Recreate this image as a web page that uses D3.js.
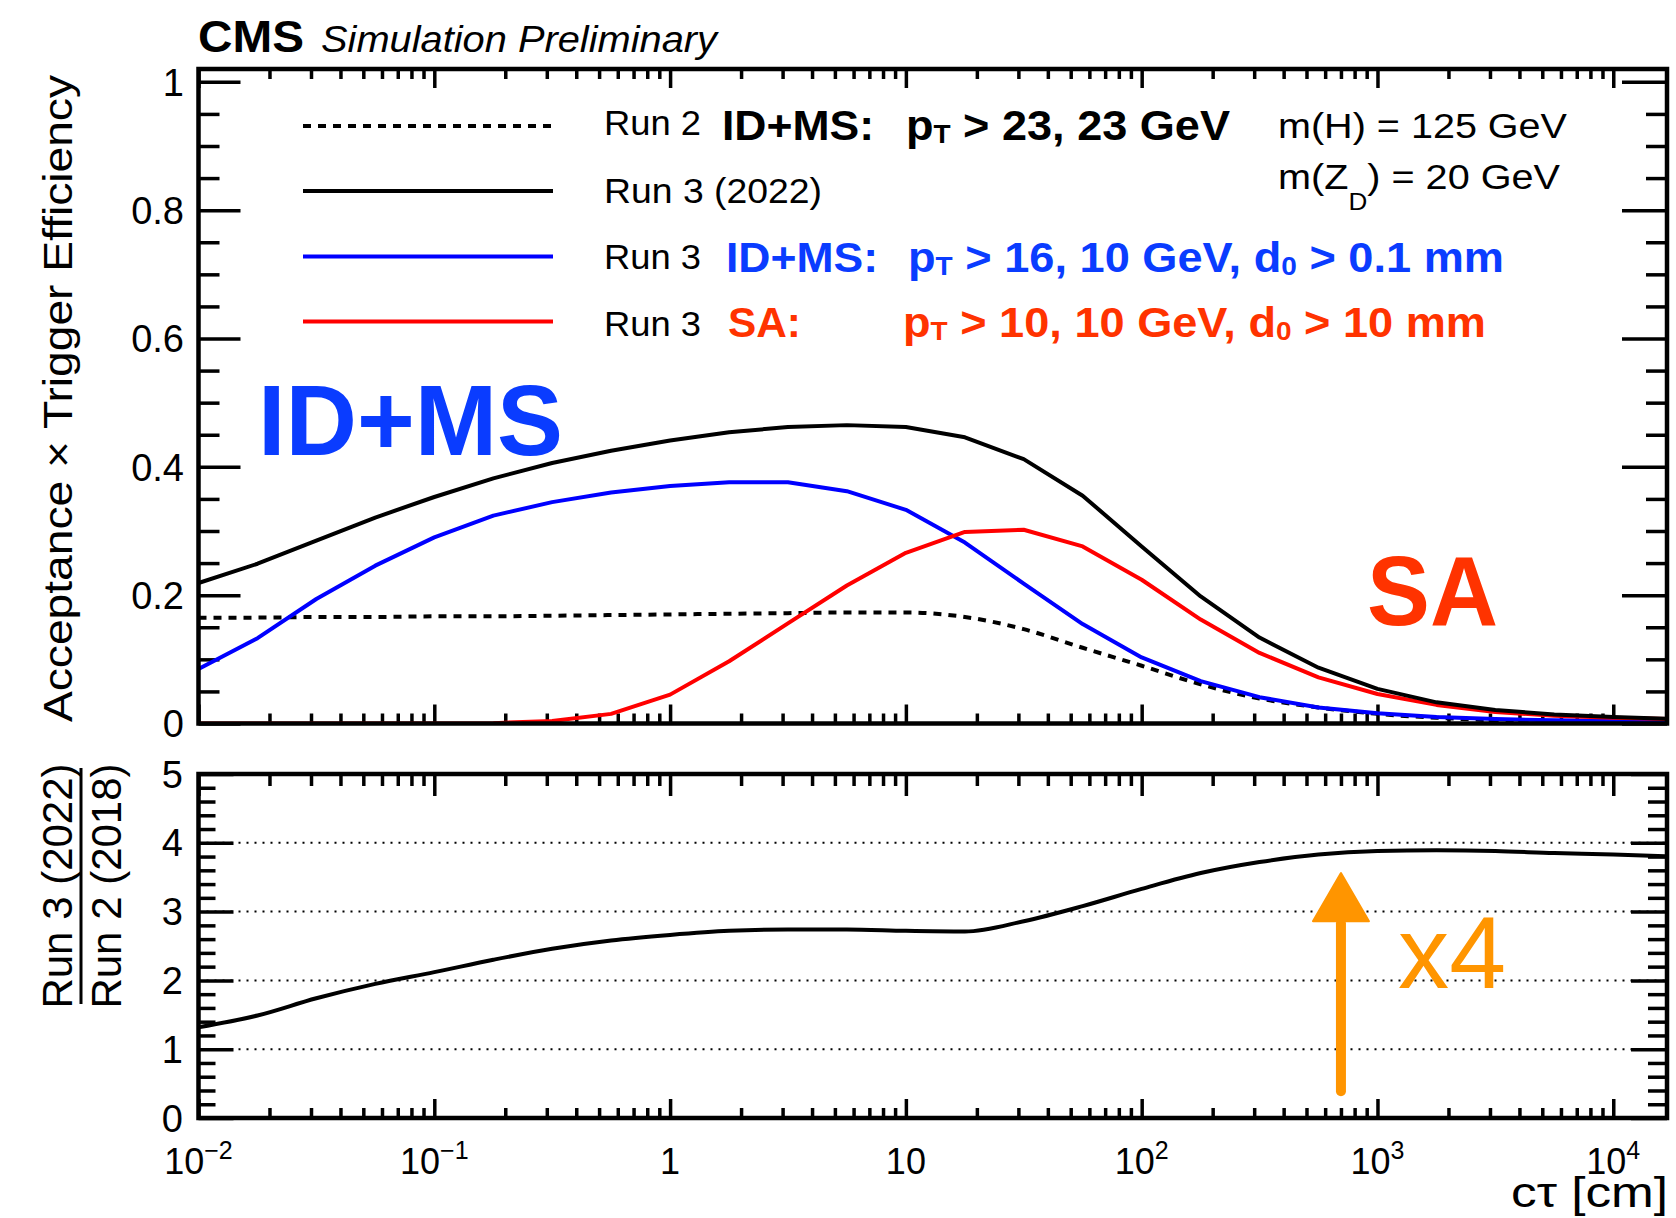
<!DOCTYPE html>
<html>
<head>
<meta charset="utf-8">
<script src="https://cdn.jsdelivr.net/npm/d3@7"></script>
<style>
  html, body { margin: 0; padding: 0; background: #fff; }
  svg text { font-family: "Liberation Sans", Arial, Helvetica, sans-serif; }
</style>
</head>
<body>
<svg id="chart" width="1676" height="1218"></svg>
<script>
// Proper decay length c*tau [cm] at which the efficiencies were evaluated
const ctValues = [0.01, 0.0178, 0.0316, 0.0562, 0.1, 0.178, 0.316, 0.562,
                  1, 1.78, 3.16, 5.62, 10, 17.8, 31.6, 56.2,
                  100, 178, 316, 562, 1000, 1780, 3160, 5620, 10000, 17800];

// Acceptance x trigger efficiency, m(H) = 125 GeV, m(ZD) = 20 GeV
const run2IdMs = [0.165, 0.165, 0.166, 0.166, 0.167, 0.167, 0.168, 0.169,
                  0.170, 0.171, 0.172, 0.173, 0.173, 0.166, 0.147, 0.118,
                  0.090, 0.061, 0.039, 0.025, 0.015, 0.009, 0.005, 0.0035, 0.0025, 0.002];
const run3Total = [0.219, 0.249, 0.285, 0.321, 0.353, 0.382, 0.406, 0.425,
                   0.441, 0.454, 0.462, 0.465, 0.462, 0.446, 0.412, 0.355,
                   0.276, 0.198, 0.134, 0.087, 0.054, 0.033, 0.021, 0.014, 0.010, 0.007];
const run3IdMs = [0.085, 0.133, 0.194, 0.246, 0.290, 0.324, 0.345, 0.360,
                  0.370, 0.376, 0.376, 0.362, 0.333, 0.282, 0.218, 0.155,
                  0.103, 0.066, 0.041, 0.025, 0.016, 0.010, 0.007, 0.005, 0.004, 0.003];
const run3Sa = [0.0, 0.0, 0.0, 0.0, 0.0, 0.0005, 0.004, 0.015,
                0.045, 0.097, 0.156, 0.215, 0.266, 0.2985, 0.302, 0.276,
                0.224, 0.162, 0.110, 0.072, 0.046, 0.029, 0.018, 0.012, 0.009, 0.007];

// Run 3 (2022) / Run 2 (2018)
const ratioRun3Run2 = [1.32, 1.49, 1.74, 1.95, 2.12, 2.30, 2.46, 2.58,
                       2.66, 2.72, 2.74, 2.74, 2.72, 2.71, 2.86, 3.08,
                       3.33, 3.56, 3.72, 3.83, 3.88, 3.89, 3.88, 3.85, 3.83, 3.80];

// Axis ticks and labels
const xMajorTicks = [0.01, 0.1, 1, 10, 100, 1000, 10000];
const xTickBase = ["10", "10", "1", "10", "10", "10", "10"];
const xTickExp = ["\u22122", "\u22121", "", "", "2", "3", "4"];
const effTicks = [0, 0.2, 0.4, 0.6, 0.8, 1];
const effTickLabels = ["0", "0.2", "0.4", "0.6", "0.8", "1"];
const ratioTicks = [0, 1, 2, 3, 4, 5];
const ratioTickLabels = ["0", "1", "2", "3", "4", "5"];
const ratioGridValues = [1, 2, 3, 4];

// ---------------------------------------------------------------
const svg = d3.select("#chart");
const BLUE_TXT = "#0a3cff", RED_TXT = "#ff3300", ORANGE = "#ff9500";

const L = 198.5, R = 1667;
const top1 = 69, bot1 = 723.5;   // efficiency pad
const top2 = 774, bot2 = 1118;   // ratio pad

const x = d3.scaleLog().domain([0.01, 16900]).range([L, R]);
const y1 = d3.scaleLinear().domain([0, 1.02]).range([bot1, top1]);
const y2 = d3.scaleLinear().domain([0, 5]).range([bot2, top2]);

const defs = svg.append("defs");
defs.append("clipPath").attr("id", "clipTop")
  .append("rect").attr("x", L).attr("y", top1).attr("width", R - L).attr("height", bot1 - top1);
defs.append("clipPath").attr("id", "clipBot")
  .append("rect").attr("x", L).attr("y", top2).attr("width", R - L).attr("height", bot2 - top2);

const allX = x.ticks();            // 1..9 multiples of every decade
const isMajor = v => Math.abs(Math.log10(v) - Math.round(Math.log10(v))) < 1e-9;
const xMinor = allX.filter(v => !isMajor(v));

// Inward ROOT-style ticks on all four sides of a pad
function drawTicks(g, yScale, yTop, yBot, yMajor, yMinor, o) {
  const tk = g.append("g");
  const addAxis = (axis, transform) => {
    const a = tk.append("g").attr("transform", transform).call(axis);
    a.select(".domain").remove();
    a.selectAll("text").remove();
    a.selectAll("line").attr("stroke", "#000").attr("stroke-width", 3.5);
  };
  addAxis(d3.axisBottom(x).tickValues(xMajorTicks).tickSize(-o.xMaj).tickFormat(""), `translate(0,${yBot})`);
  addAxis(d3.axisBottom(x).tickValues(xMinor).tickSize(-o.xMin).tickFormat(""), `translate(0,${yBot})`);
  addAxis(d3.axisTop(x).tickValues(xMajorTicks).tickSize(-o.xMajT).tickFormat(""), `translate(0,${yTop})`);
  addAxis(d3.axisTop(x).tickValues(xMinor).tickSize(-o.xMinT).tickFormat(""), `translate(0,${yTop})`);
  addAxis(d3.axisLeft(yScale).tickValues(yMajor).tickSize(-o.yMaj).tickFormat(""), `translate(${L},0)`);
  addAxis(d3.axisLeft(yScale).tickValues(yMinor).tickSize(-o.yMin).tickFormat(""), `translate(${L},0)`);
  addAxis(d3.axisRight(yScale).tickValues(yMajor).tickSize(-o.yMajR).tickFormat(""), `translate(${R},0)`);
  addAxis(d3.axisRight(yScale).tickValues(yMinor).tickSize(-o.yMinR).tickFormat(""), `translate(${R},0)`);
}

// ---------------- efficiency pad ----------------
const gTop = svg.append("g");
const effMinor = y1.ticks(20).filter(v => !effTicks.some(t => Math.abs(t - v) < 1e-9));
drawTicks(gTop, y1, top1, bot1, effTicks, effMinor,
  { xMaj: 19, xMin: 10, xMajT: 19, xMinT: 10, yMaj: 42, yMin: 21, yMajR: 45, yMinR: 21 });

const lineLin = d3.line().x((d, i) => x(ctValues[i])).y(d => y1(d));
const lineSmooth = d3.line().curve(d3.curveMonotoneX).x((d, i) => x(ctValues[i])).y(d => y1(d));

const curves = gTop.append("g").attr("clip-path", "url(#clipTop)").attr("fill", "none")
  .attr("stroke-linejoin", "round");
curves.append("path").datum(run2IdMs).attr("d", lineSmooth)
  .attr("stroke", "#000").attr("stroke-width", 4).attr("stroke-dasharray", "8,7");
curves.append("path").datum(run3IdMs).attr("d", lineLin)
  .attr("stroke", "#0000ff").attr("stroke-width", 4);
curves.append("path").datum(run3Sa).attr("d", lineLin)
  .attr("stroke", "#ff0000").attr("stroke-width", 4);
curves.append("path").datum(run3Total).attr("d", lineLin)
  .attr("stroke", "#000").attr("stroke-width", 4);

gTop.append("rect").attr("x", L).attr("y", top1).attr("width", R - L).attr("height", bot1 - top1)
  .attr("fill", "none").attr("stroke", "#000").attr("stroke-width", 4.5);

gTop.append("g").selectAll("text").data(effTicks).join("text")
  .attr("x", 184).attr("y", d => y1(d)).attr("dy", "0.36em")
  .attr("text-anchor", "end").attr("font-size", 38).text((d, i) => effTickLabels[i]);

gTop.append("text")
  .attr("transform", "translate(72,75) rotate(-90)")
  .attr("text-anchor", "end").attr("font-size", 40)
  .attr("textLength", 647).attr("lengthAdjust", "spacingAndGlyphs")
  .text("Acceptance \u00d7 Trigger Efficiency");

// ---------------- ratio pad ----------------
const gBot = svg.append("g");
gBot.append("g").selectAll("line").data(ratioGridValues).join("line")
  .attr("x1", L).attr("x2", R).attr("y1", d => y2(d)).attr("y2", d => y2(d))
  .attr("stroke", "#000").attr("stroke-width", 2).attr("stroke-dasharray", "2,6");

const ratioMinor = y2.ticks(25).filter(v => !ratioTicks.some(t => Math.abs(t - v) < 1e-9));
drawTicks(gBot, y2, top2, bot2, ratioTicks, ratioMinor,
  { xMaj: 19, xMin: 10, xMajT: 22, xMinT: 12, yMaj: 35, yMin: 17, yMajR: 36, yMinR: 19 });

const lineRatio = d3.line().curve(d3.curveMonotoneX).x((d, i) => x(ctValues[i])).y(d => y2(d));
gBot.append("g").attr("clip-path", "url(#clipBot)")
  .append("path").datum(ratioRun3Run2).attr("d", lineRatio)
  .attr("fill", "none").attr("stroke", "#000").attr("stroke-width", 4);

gBot.append("rect").attr("x", L).attr("y", top2).attr("width", R - L).attr("height", bot2 - top2)
  .attr("fill", "none").attr("stroke", "#000").attr("stroke-width", 4.5);

gBot.append("g").selectAll("text").data(ratioTicks).join("text")
  .attr("x", 183).attr("y", d => y2(d)).attr("dy", "0.36em")
  .attr("text-anchor", "end").attr("font-size", 38).text((d, i) => ratioTickLabels[i]);

// x tick labels with exponents
const xl = gBot.append("g").selectAll("text").data(xMajorTicks).join("text")
  .attr("x", d => x(d)).attr("y", 1174).attr("text-anchor", "middle").attr("font-size", 36);
xl.append("tspan").text((d, i) => xTickBase[i]);
xl.append("tspan").attr("dy", -15).attr("font-size", 25).text((d, i) => xTickExp[i]);

svg.append("text").attr("x", 1668).attr("y", 1207).attr("text-anchor", "end")
  .attr("font-size", 42).attr("textLength", 157).attr("lengthAdjust", "spacingAndGlyphs")
  .text("c\u03c4 [cm]");

// ratio axis title as a fraction
const rt = svg.append("g");
rt.append("text").attr("transform", "translate(72,886) rotate(-90)")
  .attr("text-anchor", "middle").attr("font-size", 42).text("Run 3 (2022)");
rt.append("text").attr("transform", "translate(121,886) rotate(-90)")
  .attr("text-anchor", "middle").attr("font-size", 42).text("Run 2 (2018)");
rt.append("line").attr("x1", 81).attr("x2", 81).attr("y1", 768).attr("y2", 1004)
  .attr("stroke", "#000").attr("stroke-width", 3);

// ---------------- headers and legend ----------------
svg.append("text").attr("x", 198).attr("y", 52).attr("font-size", 44).attr("font-weight", "bold")
  .attr("textLength", 106).attr("lengthAdjust", "spacingAndGlyphs").text("CMS");
svg.append("text").attr("x", 321).attr("y", 52).attr("font-size", 36).attr("font-style", "italic")
  .attr("textLength", 396).attr("lengthAdjust", "spacingAndGlyphs").text("Simulation Preliminary");

const legendRows = [
  { y: 126, color: "#000", dash: "8,7" },
  { y: 191, color: "#000", dash: null },
  { y: 256.5, color: "#0000ff", dash: null },
  { y: 321.5, color: "#ff0000", dash: null }
];
svg.append("g").selectAll("line").data(legendRows).join("line")
  .attr("x1", 303).attr("x2", 553).attr("y1", d => d.y).attr("y2", d => d.y)
  .attr("stroke", d => d.color).attr("stroke-width", 4)
  .attr("stroke-dasharray", d => d.dash);

function plainText(xp, yp, size, str, len, opts = {}) {
  const t = svg.append("text").attr("x", xp).attr("y", yp).attr("font-size", size)
    .attr("fill", opts.fill || "#000").attr("font-weight", opts.bold ? "bold" : null);
  if (len) t.attr("textLength", len).attr("lengthAdjust", "spacingAndGlyphs");
  t.text(str);
  return t;
}
// text with p_T / d_0 style subscripts: parts = [[text, isSub], ...]
function richText(xp, yp, size, parts, len, opts = {}) {
  const t = svg.append("text").attr("x", xp).attr("y", yp).attr("font-size", size)
    .attr("fill", opts.fill || "#000").attr("font-weight", opts.bold ? "bold" : null);
  if (len) t.attr("textLength", len).attr("lengthAdjust", "spacingAndGlyphs");
  let shifted = false;
  parts.forEach(([s, sub]) => {
    const ts = t.append("tspan").text(s);
    if (sub && !shifted) { ts.attr("font-size", size * 0.62).attr("dy", 3); shifted = true; }
    else if (!sub && shifted) { ts.attr("dy", -3); shifted = false; }
  });
  return t;
}

plainText(604, 135, 35, "Run 2", 97);
plainText(722, 140, 42, "ID+MS:", 152, { bold: true });
richText(906, 140, 42, [["p", 0], ["T", 1], [" > 23, 23 GeV", 0]], 324, { bold: true });

plainText(604, 203, 35, "Run 3 (2022)", 218);

plainText(604, 269, 35, "Run 3", 97);
plainText(726, 272, 42, "ID+MS:", 152, { bold: true, fill: BLUE_TXT });
richText(908, 272, 42, [["p", 0], ["T", 1], [" > 16, 10 GeV, d", 0], ["0", 1], [" > 0.1 mm", 0]], 596,
  { bold: true, fill: BLUE_TXT });

plainText(604, 336, 35, "Run 3", 97);
plainText(728, 337, 42, "SA:", 73, { bold: true, fill: RED_TXT });
richText(903, 337, 42, [["p", 0], ["T", 1], [" > 10, 10 GeV, d", 0], ["0", 1], [" > 10 mm", 0]], 583,
  { bold: true, fill: RED_TXT });

plainText(1278, 138, 35, "m(H) = 125 GeV", 289);
const mz = svg.append("text").attr("x", 1278).attr("y", 189).attr("font-size", 35)
  .attr("textLength", 282).attr("lengthAdjust", "spacingAndGlyphs");
mz.append("tspan").text("m(Z");
mz.append("tspan").attr("font-size", 23).attr("dy", 21).text("D");
mz.append("tspan").attr("dy", -21).text(") = 20 GeV");

// ---------------- annotations ----------------
plainText(258, 455, 100, "ID+MS", 305, { bold: true, fill: BLUE_TXT });
plainText(1367, 625, 98, "SA", 131, { bold: true, fill: RED_TXT });

const arrowCt = 700, arrowFrom = 0.39, arrowBase = 2.86, arrowTip = 3.56;
const ax = x(arrowCt);
svg.append("line").attr("x1", ax).attr("x2", ax).attr("y1", y2(arrowFrom)).attr("y2", y2(arrowBase) + 2)
  .attr("stroke", ORANGE).attr("stroke-width", 10).attr("stroke-linecap", "round");
svg.append("path")
  .attr("d", `M${ax},${y2(arrowTip)} L${ax - 28},${y2(arrowBase)} L${ax + 28},${y2(arrowBase)} Z`)
  .attr("fill", ORANGE).attr("stroke", ORANGE).attr("stroke-width", 2).attr("stroke-linejoin", "round");
plainText(1398, 988, 102, "x4", 108, { fill: ORANGE });
</script>
</body>
</html>
